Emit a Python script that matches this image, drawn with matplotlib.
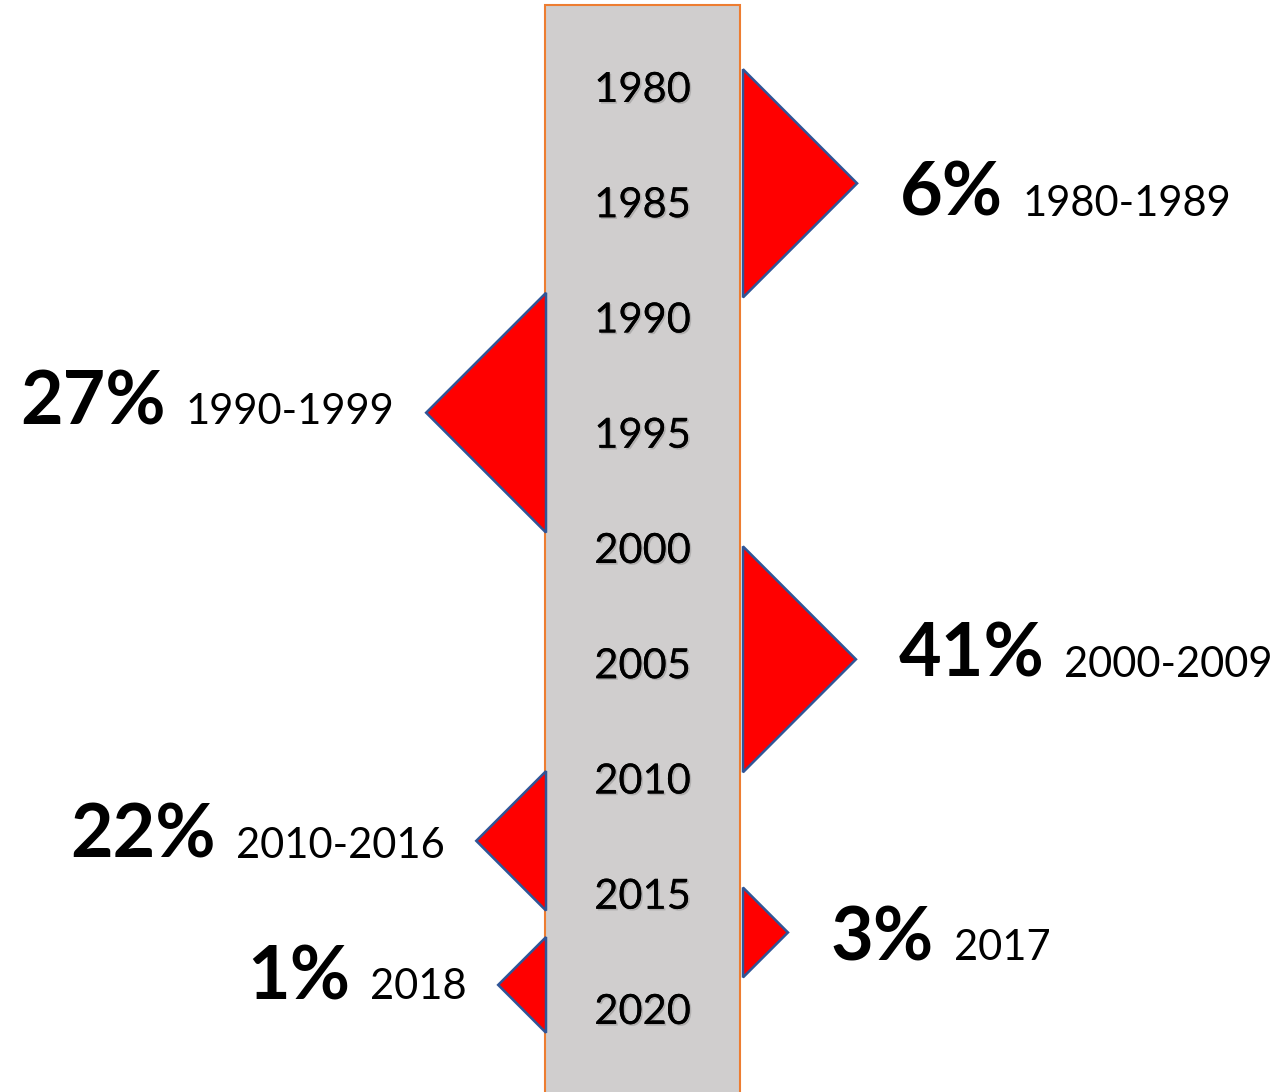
import matplotlib.pyplot as plt
import matplotlib.patheffects as pe
from matplotlib.patches import Polygon

plt.rcParams['font.family'] = ['Lato', 'DejaVu Sans']

# data
years = [1980, 1985, 1990, 1995, 2000, 2005, 2010, 2015, 2020]
shares = ['6%', '27%', '41%', '22%', '3%', '1%']
periods = ['1980-1989', '1990-1999', '2000-2009', '2010-2016', '2017', '2018']
sides = ['right', 'left', 'right', 'left', 'right', 'left']
span_start = [1979.1, 1988.8, 1999.8, 2009.55, 2014.6, 2016.75]
span_end = [1989.0, 1999.2, 2009.6, 2015.6, 2018.5, 2020.9]
label_base = [1985.45, 1994.5, 2005.45, 2013.3, 2017.75, 2019.45]

W, H = 1281, 1092
px_per_year = 23.05
y_top = 1980 - 90 / px_per_year
y_bot = 1980 + (H - 90) / px_per_year

fig = plt.figure(figsize=(W / 100, H / 100), dpi=100)
ax = fig.add_axes([0, 0, 1, 1])
ax.set_xlim(0, W)
ax.set_ylim(y_bot, y_top)
ax.axis('off')

# the time bar
bar_left, bar_right = 545, 740
ax.bar((bar_left + bar_right) / 2, y_bot + 2 - (y_top + 5 / px_per_year),
       width=bar_right - bar_left, bottom=y_top + 5 / px_per_year,
       color='#D0CECE', edgecolor='#ED7D31', linewidth=1.5, zorder=1)

shadow = [pe.withSimplePatchShadow(offset=(1.2, -1.2), shadow_rgbFace='gray', alpha=0.4), pe.Normal()]
for yr in years:
    ax.text((bar_left + bar_right) / 2, yr, str(yr), ha='center', va='center',
            fontsize=30, color='black', zorder=3, path_effects=shadow)

big, small = 53, 30
for s, p, side, y0, y1, yb in zip(shares, periods, sides, span_start, span_end, label_base):
    depth = (y1 - y0) * px_per_year / 2
    mid = (y0 + y1) / 2
    if side == 'right':
        base = 743
        apex = base + depth
        tri = Polygon([(base, y0), (apex, mid), (base, y1)], closed=True,
                      facecolor='#FF0000', edgecolor='#2F5597', linewidth=1.8, zorder=2)
        ax.add_patch(tri)
        t = ax.text(apex + 43, yb, s, ha='left', va='baseline',
                    fontsize=big, fontweight='bold')
        ax.annotate(p, xy=(1, yb), xycoords=(t, 'data'), xytext=(14, 0),
                    textcoords='offset points', ha='left', va='baseline', fontsize=small)
    else:
        base = 546
        apex = base - depth
        tri = Polygon([(base, y0), (apex, mid), (base, y1)], closed=True,
                      facecolor='#FF0000', edgecolor='#2F5597', linewidth=1.8, zorder=2)
        ax.add_patch(tri)
        t = ax.text(apex - 32, yb, p, ha='right', va='baseline', fontsize=small)
        ax.annotate(s, xy=(0, yb), xycoords=(t, 'data'), xytext=(-14, 0),
                    textcoords='offset points', ha='right', va='baseline',
                    fontsize=big, fontweight='bold')

fig.savefig('out.png', dpi=100)
